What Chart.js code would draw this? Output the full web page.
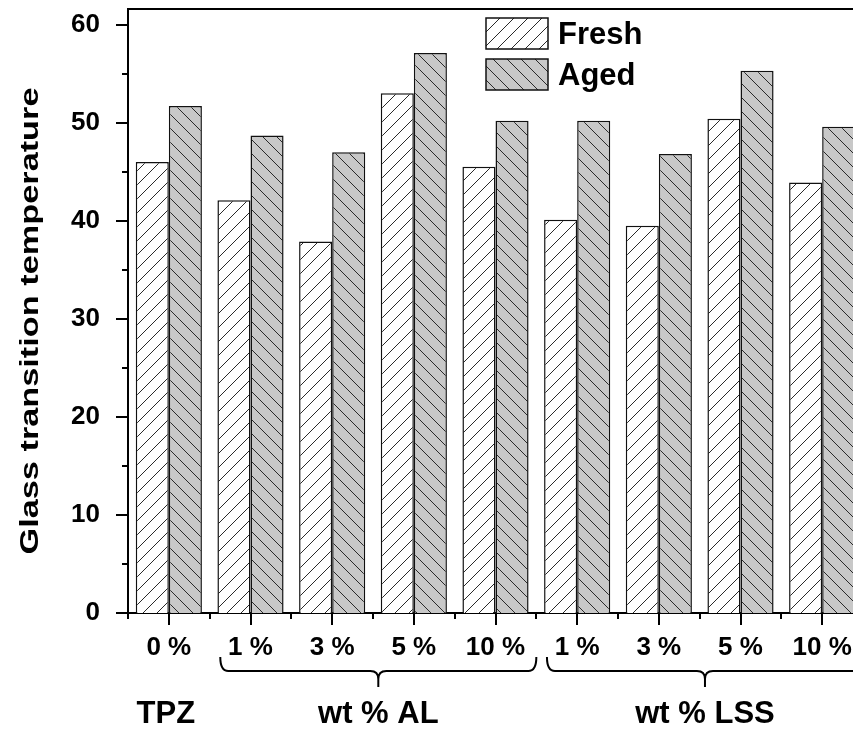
<!DOCTYPE html>
<html>
<head>
<meta charset="utf-8">
<script src="https://cdn.jsdelivr.net/npm/chart.js@4.4.0/dist/chart.umd.min.js"></script>
<style>
  html, body { margin: 0; padding: 0; background: #fff; overflow: hidden; }
  #wrap { width: 866px; height: 731px; }
</style>
</head>
<body>
<div id="wrap"><canvas id="grafico" width="866" height="731"></canvas></div>
<script>
const categorias = ['0 %', '1 %', '3 %', '5 %', '10 %', '1 %', '3 %', '5 %', '10 %']
const fresh = [46.0, 42.1, 37.9, 53.0, 45.5, 40.1, 39.5, 50.4, 43.9]
const aged = [51.7, 48.7, 47.0, 57.1, 50.2, 50.2, 46.8, 55.3, 49.6]
const yTicks = [0, 10, 20, 30, 40, 50, 60]
const yMinorTicks = [5, 15, 25, 35, 45, 55]
const grupos = ['TPZ', 'wt % AL', 'wt % LSS']
const grupoInicio = [0, 1, 5]
const grupoFim = [0, 4, 8]
const tituloY = 'Glass transition temperature'

const fonte = '"Liberation Sans", Arial, sans-serif'

/** Cria o padrão hachurado das barras */
function criaHachura(fundo, direcao) {
    const s = 14
    const c = document.createElement('canvas')
    c.width = s
    c.height = s
    const g = c.getContext('2d')
    g.fillStyle = fundo
    g.fillRect(0, 0, s, s)
    g.strokeStyle = '#2a2a2a'
    g.lineWidth = 1
    g.beginPath()
    if (direcao === '/') {
        g.moveTo(-2, s + 2); g.lineTo(s + 2, -2)
    } else {
        g.moveTo(-2, -2); g.lineTo(s + 2, s + 2)
    }
    g.stroke()
    return g.createPattern(c, 'repeat')
}

/** Marcas dos eixos, borda de cima e título do eixo y */
const pluginMarcas = {
    id: 'marcas',
    afterDraw(chart) {
        const ctx = chart.ctx
        const x = chart.scales.x
        const y = chart.scales.y
        const area = chart.chartArea
        ctx.save()
        ctx.strokeStyle = '#000'
        ctx.lineWidth = 2
        ctx.beginPath()
        yTicks.forEach(v => {
            const py = Math.round(y.getPixelForValue(v))
            ctx.moveTo(area.left - 12, py); ctx.lineTo(area.left, py)
        })
        yMinorTicks.forEach(v => {
            const py = Math.round(y.getPixelForValue(v))
            ctx.moveTo(area.left - 6, py); ctx.lineTo(area.left, py)
        })
        categorias.forEach((c, i) => {
            const px = Math.round(x.getPixelForValue(i))
            ctx.moveTo(px, area.bottom); ctx.lineTo(px, area.bottom + 12)
        })
        for (let i = 0; i <= categorias.length; i++) {
            const px = Math.round(x.getPixelForValue(i - 0.5))
            ctx.moveTo(px, area.bottom); ctx.lineTo(px, area.bottom + 6)
        }
        ctx.moveTo(area.left - 1, area.top); ctx.lineTo(area.right, area.top)
        ctx.lineTo(area.right, area.bottom)
        ctx.stroke()

        // título do eixo y, esticado no sentido do texto como no original
        ctx.fillStyle = '#000'
        ctx.font = 'bold 26px ' + fonte
        ctx.textAlign = 'center'
        ctx.textBaseline = 'alphabetic'
        const largura = ctx.measureText(tituloY).width
        ctx.translate(38, 321)
        ctx.rotate(-Math.PI / 2)
        ctx.scale(467 / largura, 1)
        ctx.fillText(tituloY, 0, 0)
        ctx.restore()
    }
}

function desenhaChave(ctx, x0, x1, yTopo, yMeio, yPonta) {
    const r = 8
    const xc = (x0 + x1) / 2
    ctx.beginPath()
    ctx.moveTo(x0, yTopo)
    ctx.quadraticCurveTo(x0, yMeio, x0 + r, yMeio)
    ctx.lineTo(xc - r, yMeio)
    ctx.quadraticCurveTo(xc, yMeio, xc, yMeio + r)
    ctx.lineTo(xc, yPonta)
    ctx.moveTo(xc, yMeio + r)
    ctx.quadraticCurveTo(xc, yMeio, xc + r, yMeio)
    ctx.lineTo(x1 - r, yMeio)
    ctx.quadraticCurveTo(x1, yMeio, x1, yTopo)
    ctx.stroke()
}

/** Chaves e nomes dos grupos embaixo do eixo x */
const pluginGrupos = {
    id: 'grupos',
    afterDraw(chart) {
        const ctx = chart.ctx
        const x = chart.scales.x
        const base = chart.chartArea.bottom
        ctx.save()
        ctx.strokeStyle = '#000'
        ctx.lineWidth = 2
        ctx.fillStyle = '#000'
        ctx.font = 'bold 31px ' + fonte
        ctx.textAlign = 'center'
        ctx.textBaseline = 'middle'
        grupos.forEach((nome, i) => {
            let meio = x.getPixelForValue(grupoInicio[i]) - 3
            if (grupoFim[i] > grupoInicio[i]) {
                const x0 = x.getPixelForValue(grupoInicio[i] - 0.37)
                const x1 = x.getPixelForValue(grupoFim[i] + 0.5)
                desenhaChave(ctx, x0, x1, base + 44, base + 58, base + 74)
                meio = (x0 + x1) / 2
            }
            ctx.fillText(nome, meio, base + 101)
        })
        ctx.restore()
    }
}

/** Legenda dentro da área do gráfico */
const pluginLegenda = {
    id: 'legendaCaixa',
    afterDraw(chart) {
        const ctx = chart.ctx
        ctx.save()
        ctx.font = 'bold 31px ' + fonte
        ctx.textBaseline = 'middle'
        chart.data.datasets.forEach((ds, i) => {
            const bx = 486
            const by = 18 + i * 41
            ctx.fillStyle = ds.backgroundColor
            ctx.fillRect(bx, by, 62, 31)
            ctx.strokeStyle = '#111'
            ctx.lineWidth = 1.5
            ctx.strokeRect(bx, by, 62, 31)
            ctx.fillStyle = '#000'
            ctx.fillText(ds.label, 558, by + 17)
        })
        ctx.restore()
    }
}

const ctx = document.getElementById('grafico').getContext('2d')
const grafico = new Chart(ctx, {
    type: 'bar',
    data: {
        labels: categorias,
        datasets: [{
            label: 'Fresh',
            data: fresh,
            backgroundColor: criaHachura('#ffffff', '/'),
            borderColor: '#111',
            borderWidth: 1.5
        }, {
            label: 'Aged',
            data: aged,
            backgroundColor: criaHachura('#c8c8c8', '\\'),
            borderColor: '#111',
            borderWidth: 1.5
        }]
    },
    options: {
        responsive: false,
        animation: false,
        devicePixelRatio: 1,
        layout: { padding: { top: 9, right: 3, left: 0, bottom: 0 } },
        datasets: {
            bar: { barPercentage: 1, categoryPercentage: 0.81 }
        },
        scales: {
            x: {
                offset: true,
                grid: { display: false },
                border: { display: true, color: '#000', width: 2 },
                ticks: {
                    color: '#000',
                    padding: 11,
                    maxRotation: 0,
                    autoSkip: false,
                    font: { family: fonte, weight: 'bold', size: 26 }
                },
                afterFit: (scale) => {
                    scale.height = 118
                    scale.paddingLeft = 0
                    scale.paddingRight = 0
                }
            },
            y: {
                min: 0,
                max: 61.6,
                grid: { display: false },
                border: { display: true, color: '#000', width: 2 },
                afterBuildTicks: (scale) => { scale.ticks = yTicks.map(v => ({ value: v })) },
                ticks: {
                    color: '#000',
                    padding: 20,
                    font: { family: fonte, weight: 'bold', size: 26 }
                },
                afterFit: (scale) => {
                    scale.width = 128
                    scale.paddingTop = 0
                    scale.paddingBottom = 0
                }
            }
        },
        plugins: {
            legend: { display: false },
            tooltip: { enabled: false }
        }
    },
    plugins: [pluginMarcas, pluginGrupos, pluginLegenda]
})
</script>
</body>
</html>
